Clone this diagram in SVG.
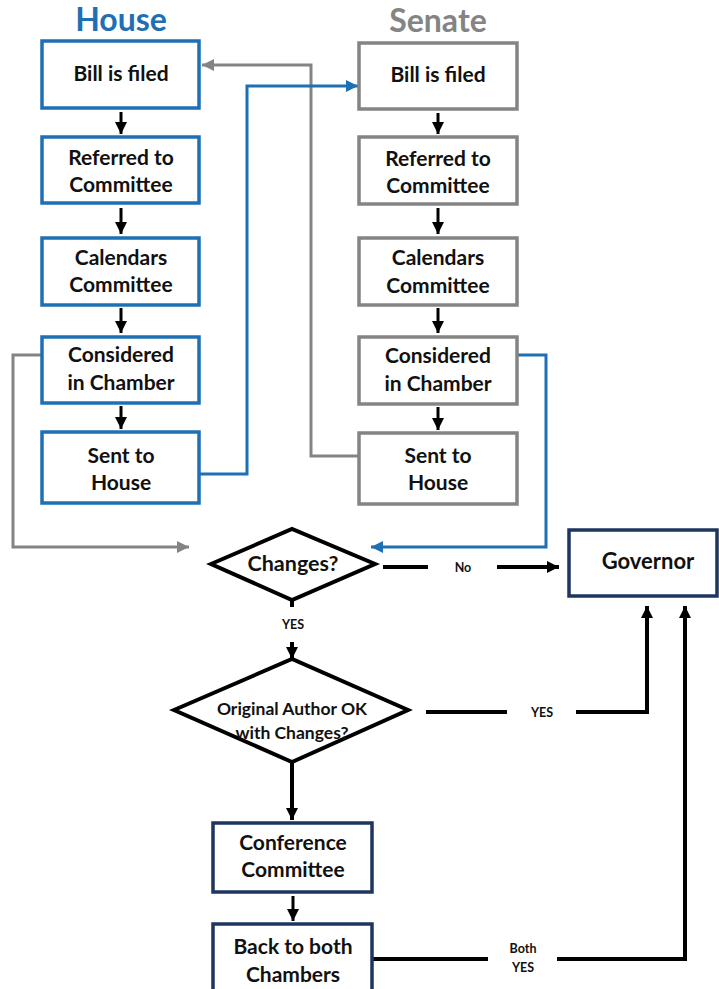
<svg xmlns="http://www.w3.org/2000/svg" width="719" height="989" viewBox="0 0 719 989">
<style>
text{font-family:Lato,"Liberation Sans",sans-serif;font-weight:bold;text-anchor:middle;fill:#111}
.t{font-size:21px}
.s{font-size:12.5px}
.hb{fill:#fff;stroke:#1f6fb5;stroke-width:3.5}
.sb{fill:#fff;stroke:#848484;stroke-width:3.5}
.nb{fill:#fff;stroke:#1e3560;stroke-width:3.5}
.dm{fill:#fff;stroke:#000;stroke-width:4}
.k{fill:none;stroke:#000;stroke-width:3}
.kk{fill:none;stroke:#000;stroke-width:4}
.bl{fill:none;stroke:#1f6fb5;stroke-width:3}
.gr{fill:none;stroke:#848484;stroke-width:3}
</style>
<defs>
<marker id="ak" markerUnits="userSpaceOnUse" markerWidth="14" markerHeight="14" refX="12" refY="7" orient="auto"><path d="M0,1 L12,7 L0,13 Z" fill="#000"/></marker>
<marker id="ab" markerUnits="userSpaceOnUse" markerWidth="14" markerHeight="14" refX="12" refY="7" orient="auto"><path d="M0,1 L12,7 L0,13 Z" fill="#1f6fb5"/></marker>
<marker id="ag" markerUnits="userSpaceOnUse" markerWidth="14" markerHeight="14" refX="12" refY="7" orient="auto"><path d="M0,1 L12,7 L0,13 Z" fill="#848484"/></marker>
</defs>
<rect width="719" height="989" fill="#fff"/>

<text x="121" y="31" style="font-size:32px;fill:#1f6fb5">House</text>
<text x="438" y="32" style="font-size:32px;fill:#848484">Senate</text>

<g id="connectors">
<line class="k" x1="121" y1="112" x2="121" y2="134" marker-end="url(#ak)"/>
<line class="k" x1="121" y1="208" x2="121" y2="234" marker-end="url(#ak)"/>
<line class="k" x1="121" y1="308" x2="121" y2="333" marker-end="url(#ak)"/>
<line class="k" x1="121" y1="406" x2="121" y2="429" marker-end="url(#ak)"/>
<line class="k" x1="438" y1="113" x2="438" y2="134" marker-end="url(#ak)"/>
<line class="k" x1="438" y1="208" x2="438" y2="234" marker-end="url(#ak)"/>
<line class="k" x1="438" y1="308" x2="438" y2="333" marker-end="url(#ak)"/>
<line class="k" x1="438" y1="407" x2="438" y2="430" marker-end="url(#ak)"/>
<polyline class="gr" points="359,456 311,456 311,65 202,65" marker-end="url(#ag)"/>
<polyline class="bl" points="200,474 247,474 247,86 358,86" marker-end="url(#ab)"/>
<polyline class="gr" points="42,355 13,355 13,547 189,547" marker-end="url(#ag)"/>
<polyline class="bl" points="517,355 546,355 546,547 371,547" marker-end="url(#ab)"/>
<line class="kk" x1="383" y1="567" x2="428" y2="567"/>
<line class="kk" x1="497" y1="567" x2="559" y2="567" marker-end="url(#ak)"/>
<line class="kk" x1="292" y1="600" x2="292" y2="607"/>
<line class="kk" x1="292" y1="642" x2="292" y2="659" marker-end="url(#ak)"/>
<line class="kk" x1="426" y1="712" x2="507" y2="712"/>
<polyline class="kk" points="576,712 647,712 647,606" marker-end="url(#ak)"/>
<line class="kk" x1="292" y1="762" x2="292" y2="820" marker-end="url(#ak)"/>
<line class="k" x1="293" y1="896" x2="293" y2="921" marker-end="url(#ak)"/>
<line class="kk" x1="373" y1="959" x2="488" y2="959"/>
<polyline class="kk" points="557,959 685,959 685,606" marker-end="url(#ak)"/>
</g>

<g id="house-bill"><rect class="hb" x="42" y="41" width="157" height="67"/><text class="t" x="121" y="81">Bill is filed</text></g>
<g id="house-referred"><rect class="hb" x="42" y="137" width="157" height="66"/><text class="t" x="121" y="165">Referred to</text><text class="t" x="121" y="192">Committee</text></g>
<g id="house-calendars"><rect class="hb" x="42" y="238" width="157" height="67"/><text class="t" x="121" y="265">Calendars</text><text class="t" x="121" y="292">Committee</text></g>
<g id="house-considered"><rect class="hb" x="42" y="337" width="157" height="66"/><text class="t" x="121" y="362">Considered</text><text class="t" x="121" y="390">in Chamber</text></g>
<g id="house-sent"><rect class="hb" x="42" y="432" width="157" height="71"/><text class="t" x="121" y="463">Sent to</text><text class="t" x="121" y="490">House</text></g>

<g id="senate-bill"><rect class="sb" x="359" y="43" width="158" height="66"/><text class="t" x="438" y="82">Bill is filed</text></g>
<g id="senate-referred"><rect class="sb" x="359" y="137" width="158" height="67"/><text class="t" x="438" y="166">Referred to</text><text class="t" x="438" y="193">Committee</text></g>
<g id="senate-calendars"><rect class="sb" x="359" y="238" width="158" height="67"/><text class="t" x="438" y="265">Calendars</text><text class="t" x="438" y="293">Committee</text></g>
<g id="senate-considered"><rect class="sb" x="359" y="337" width="158" height="67"/><text class="t" x="438" y="363">Considered</text><text class="t" x="438" y="391">in Chamber</text></g>
<g id="senate-sent"><rect class="sb" x="359" y="433" width="158" height="71"/><text class="t" x="438" y="463">Sent to</text><text class="t" x="438" y="490">House</text></g>

<g id="changes"><polygon class="dm" points="211,564 292,529 375,564 292,600"/><text x="293" y="571" style="font-size:21.5px">Changes?</text></g>
<g id="label-no"><text class="s" x="463" y="572">No</text></g>
<g id="label-yes1"><text class="s" x="293" y="629">YES</text></g>
<g id="governor"><rect class="nb" x="569" y="530" width="148" height="66"/><text x="648" y="569" style="font-size:22px">Governor</text></g>
<g id="original"><polygon class="dm" points="174,710 292,659 408,710 292,762"/><text x="292" y="715" style="font-size:17.5px">Original Author OK</text><text x="292" y="739" style="font-size:17.5px">with Changes?</text></g>
<g id="label-yes2"><text class="s" x="542" y="717">YES</text></g>
<g id="conference"><rect class="nb" x="213" y="823" width="159" height="69"/><text class="t" x="293" y="850">Conference</text><text class="t" x="293" y="877">Committee</text></g>
<g id="back"><rect class="nb" x="213" y="924" width="159" height="80"/><text class="t" x="293" y="954">Back to both</text><text class="t" x="293" y="982">Chambers</text></g>
<g id="label-both"><text class="s" x="523" y="953">Both</text><text class="s" x="523" y="972">YES</text></g>
</svg>
